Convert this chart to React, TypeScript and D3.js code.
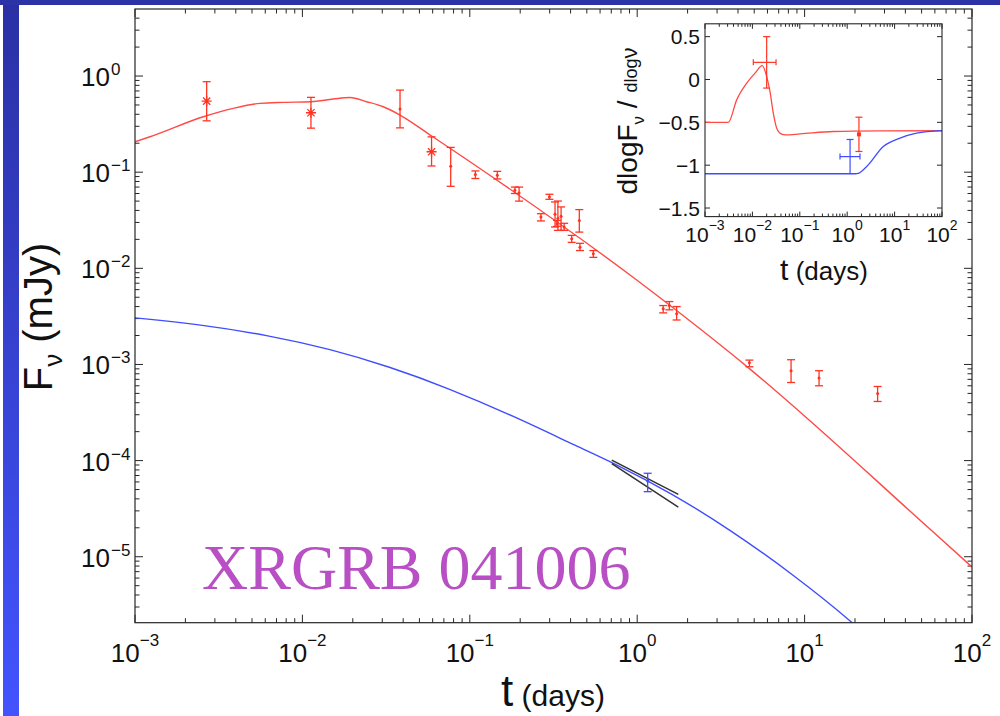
import React from "react";
import * as d3 from "d3";

const W = 1000;
const H = 716;

// ---------- Main panel: optical (red) observations ----------
const optT = [0.00268, 0.01125, 0.0383, 0.0591, 0.0769, 0.108, 0.146, 0.186, 0.197, 0.266, 0.299, 0.323, 0.332, 0.336, 0.351, 0.366, 0.406, 0.451, 0.455, 0.547, 1.43, 1.556, 1.72, 4.68, 8.3, 12.2, 27.3];
const optF = [0.549, 0.415, 0.453, 0.163, 0.115, 0.0944, 0.093, 0.0649, 0.0607, 0.0341, 0.0552, 0.0364, 0.0291, 0.0331, 0.0348, 0.0269, 0.0203, 0.0315, 0.0166, 0.0142, 0.00379, 0.0041, 0.00336, 0.00104, 0.000861, 0.000722, 0.000499];
const optLo = [0.342, 0.287, 0.289, 0.116, 0.0713, 0.0859, 0.085, 0.06, 0.05, 0.0311, 0.0522, 0.0269, 0.0273, 0.0248, 0.0248, 0.0248, 0.0186, 0.0238, 0.0153, 0.013, 0.00344, 0.0037, 0.0029, 0.000946, 0.000649, 0.0006, 0.000412];
const optHi = [0.873, 0.6, 0.714, 0.233, 0.181, 0.103, 0.102, 0.07, 0.07, 0.037, 0.0589, 0.049, 0.0315, 0.0501, 0.0435, 0.0294, 0.022, 0.0408, 0.0182, 0.0153, 0.0041, 0.00451, 0.004, 0.00111, 0.00112, 0.000861, 0.00059];
const optMarker = ["star", "star", "dot", "star", "dot", "dot", "dot", "dot", "dot", "dot", "dot", "dot", "dot", "dot", "dot", "dot", "dot", "dot", "dot", "dot", "dot", "dot", "dot", "dot", "dot", "dot", "dot"];

// X-ray (blue) observation
const xrT = [1.155];
const xrF = [6.14e-5];
const xrLo = [4.75e-5];
const xrHi = [7.38e-5];

// Bow-tie (X-ray spectral range)
const bowT = [0.705, 1.76];
const bowUpperF = [1.01e-4, 4.46e-5];
const bowLowerF = [9.3e-5, 3.29e-5];

// Model curves
const modelOptT = [0.001, 0.001229, 0.002559, 0.003866, 0.00558, 0.007689, 0.011254, 0.015298, 0.019241, 0.024215, 0.03042, 0.038282, 0.0592, 0.99312, 4.6613, 55.41, 100];
const modelOptF = [0.2073, 0.2336, 0.3773, 0.4613, 0.52, 0.5327, 0.5404, 0.5763, 0.5975, 0.5404, 0.4793, 0.3929, 0.2376, 0.007552, 0.000911, 1.974e-5, 7.81e-6];
const modelXT = [0.001, 0.00234, 0.0064, 0.0146, 0.0333, 0.0728, 0.182, 0.455, 0.719, 1.6, 3.58, 8.5, 20.0, 30.0];
const modelXF = [3.05e-3, 2.64e-3, 2.0e-3, 1.45e-3, 9.46e-4, 5.75e-4, 2.92e-4, 1.36e-4, 9.51e-5, 4.6e-5, 1.92e-5, 6.6e-6, 2.0e-6, 1.0e-6];

// Ticks
const mainXDecades = [-3, -2, -1, 0, 1, 2];
const mainYDecades = [0, -1, -2, -3, -4, -5];

// ---------- Inset: spectral index ----------
const insOptT = [0.001, 0.003102, 0.004664, 0.007582, 0.01135, 0.01618, 0.02003, 0.02351, 0.0276, 0.03256, 0.04149, 0.04873, 0.101, 0.5089, 4.92, 100];
const insOptB = [-0.5, -0.5, -0.238, -0.043, 0.075, 0.162, 0.034, -0.141, -0.393, -0.568, -0.638, -0.646, -0.635, -0.607, -0.6, -0.598];
const insXT = [0.001, 1.5, 1.71, 2.58, 5.78, 13.0, 29.2, 100];
const insXB = [-1.1, -1.1, -1.095, -1.015, -0.782, -0.684, -0.626, -0.596];

const insOptPtT = [0.02, 1.77];
const insOptPtTLo = [0.01045, null];
const insOptPtTHi = [0.0315, null];
const insOptPtB = [0.2, -0.64];
const insOptPtBLo = [-0.1, -0.84];
const insOptPtBHi = [0.5, -0.44];
const insOptPtMarker = ["none", "square"];

const insXPtT = [1.15];
const insXPtTLo = [0.705];
const insXPtTHi = [1.86];
const insXPtB = [-0.9];
const insXPtBLo = [-1.1];
const insXPtBHi = [-0.7];

const insXDecades = [-3, -2, -1, 0, 1, 2];
const insYTicks = [0.5, 0, -0.5, -1, -1.5];

const RED_LINE = "#ff4a45";
const RED_BAR = "#ff3322";
const BLUE = "#3f4dff";
const AX = "#262626";
const SANS = "'Liberation Sans', Arial, Helvetica, sans-serif";

const fmtExp = (d: number) => (d < 0 ? "\u2212" + Math.abs(d) : String(d));

export default function App() {
  // main scales
  const pL = 135, pR = 972, pT = 9, pB = 622.7;
  const x = d3.scaleLog().domain([1e-3, 1e2]).range([pL, pR]);
  const y = d3.scaleLog().domain([2.06e-6, 4.98]).range([pB, pT]);

  // inset scales
  const iL = 705, iR = 942, iT = 23.8, iB = 216.6;
  const xi = d3.scaleLog().domain([1e-3, 1e2]).range([iL, iR]);
  const yi = d3.scaleLinear().domain([-1.6, 0.65]).range([iB, iT]);

  const lineMain = d3
    .line<[number, number]>()
    .x((d) => x(d[0]))
    .y((d) => y(d[1]))
    .curve(d3.curveMonotoneX);
  const lineMainSmooth = d3
    .line<[number, number]>()
    .x((d) => x(d[0]))
    .y((d) => y(d[1]))
    .curve(d3.curveBasis);
  const lineIns = d3
    .line<[number, number]>()
    .x((d) => xi(d[0]))
    .y((d) => yi(d[1]))
    .curve(d3.curveMonotoneX);

  const optModelPath = lineMain(modelOptT.map((t, i) => [t, modelOptF[i]]) as [number, number][]) || "";
  const xModelPath = lineMainSmooth(modelXT.map((t, i) => [t, modelXF[i]]) as [number, number][]) || "";
  const insOptPath = lineIns(insOptT.map((t, i) => [t, insOptB[i]]) as [number, number][]) || "";
  const insXPath = lineIns(insXT.map((t, i) => [t, insXB[i]]) as [number, number][]) || "";

  // main ticks
  const xMinor: number[] = [];
  for (let d = -3; d < 2; d++) for (let k = 2; k <= 9; k++) xMinor.push(k * Math.pow(10, d));
  const yMinor: number[] = [];
  for (let d = -6; d <= 0; d++)
    for (let k = 2; k <= 9; k++) {
      const v = k * Math.pow(10, d);
      if (v > 2.06e-6 && v < 4.98) yMinor.push(v);
    }

  const star = "M-5,0L5,0M0,-5L0,5M-3.6,-3.6L3.6,3.6M-3.6,3.6L3.6,-3.6";
  const cap = 4;

  return (
    <svg
      width={W}
      height={H}
      viewBox={`0 0 ${W} ${H}`}
      style={{ position: "absolute", left: 0, top: 0, background: "#fff" }}
      fontFamily={SANS}
    >
      <defs>
        <linearGradient id="strip" x1="0" y1="0" x2="0" y2="1">
          <stop offset="0" stopColor="#2a30a3" />
          <stop offset="1" stopColor="#4354ff" />
        </linearGradient>
        <clipPath id="mainClip">
          <rect x={pL} y={pT} width={pR - pL} height={pB - pT} />
        </clipPath>
        <clipPath id="insClip">
          <rect x={iL} y={iT} width={iR - iL} height={iB - iT} />
        </clipPath>
      </defs>

      {/* slide frame */}
      <rect x={0} y={0} width={W} height={H} fill="#fff" />
      <rect x={3} y={0} width={16} height={H} fill="url(#strip)" />
      <rect x={0} y={0} width={W} height={5} fill="#2c33a7" />

      {/* main plot box */}
      <rect x={pL} y={pT} width={pR - pL} height={pB - pT} fill="#fff" stroke="none" />

      {/* main ticks */}
      <g stroke={AX} strokeWidth={1}>
        {mainXDecades.map((d) => {
          const px = x(Math.pow(10, d));
          return (
            <g key={"xM" + d}>
              <line x1={px} x2={px} y1={pB} y2={pB - 8} />
              <line x1={px} x2={px} y1={pT} y2={pT + 8} />
            </g>
          );
        })}
        {xMinor.map((v, i) => {
          const px = x(v);
          return (
            <g key={"xm" + i}>
              <line x1={px} x2={px} y1={pB} y2={pB - 4.5} />
              <line x1={px} x2={px} y1={pT} y2={pT + 4.5} />
            </g>
          );
        })}
        {mainYDecades.map((d) => {
          const py = y(Math.pow(10, d));
          return (
            <g key={"yM" + d}>
              <line x1={pL} x2={pL + 8} y1={py} y2={py} />
              <line x1={pR} x2={pR - 8} y1={py} y2={py} />
            </g>
          );
        })}
        {yMinor.map((v, i) => {
          const py = y(v);
          return (
            <g key={"ym" + i}>
              <line x1={pL} x2={pL + 4.5} y1={py} y2={py} />
              <line x1={pR} x2={pR - 4.5} y1={py} y2={py} />
            </g>
          );
        })}
      </g>

      {/* main tick labels */}
      <g fill="#111">
        {mainXDecades.map((d) => (
          <text key={"xl" + d} x={x(Math.pow(10, d))} y={662} textAnchor="middle" fontSize={26}>
            <tspan>10</tspan>
            <tspan dy={-16} fontSize={17}>{fmtExp(d)}</tspan>
          </text>
        ))}
        {mainYDecades.map((d) => {
          const py = y(Math.pow(10, d));
          return (
            <g key={"yl" + d}>
              <text x={110} y={py + 10} textAnchor="end" fontSize={26}>10</text>
              <text x={111} y={py - 1} textAnchor="start" fontSize={17}>{fmtExp(d)}</text>
            </g>
          );
        })}
      </g>

      {/* axis labels */}
      <text x={553} y={706} textAnchor="middle" fill="#111">
        <tspan fontSize={44}>t</tspan>
        <tspan fontSize={30}> (days)</tspan>
      </text>
      <text transform="translate(52,317) rotate(-90)" textAnchor="middle" fill="#111" fontSize={40}>
        <tspan>F</tspan>
        <tspan fontSize={26} dy={10}>ν</tspan>
        <tspan dy={-10}> (mJy)</tspan>
      </text>

      {/* curves */}
      <g clipPath="url(#mainClip)" fill="none">
        <path d={optModelPath} stroke={RED_LINE} strokeWidth={1.4} />
        <path d={xModelPath} stroke={BLUE} strokeWidth={1.4} />
      </g>

      {/* bow tie */}
      <g stroke="#333" strokeWidth={1.5}>
        <line x1={x(bowT[0])} y1={y(bowUpperF[0])} x2={x(bowT[1])} y2={y(bowUpperF[1])} />
        <line x1={x(bowT[0])} y1={y(bowLowerF[0])} x2={x(bowT[1])} y2={y(bowLowerF[1])} />
      </g>

      {/* optical points */}
      <g stroke={RED_BAR} strokeWidth={1.3} fill={RED_BAR}>
        {optT.map((t, i) => {
          const px = x(t);
          const py = y(optF[i]);
          const ylo = y(optLo[i]);
          const yhi = y(optHi[i]);
          return (
            <g key={"o" + i}>
              <line x1={px} x2={px} y1={ylo} y2={yhi} />
              <line x1={px - cap} x2={px + cap} y1={ylo} y2={ylo} />
              <line x1={px - cap} x2={px + cap} y1={yhi} y2={yhi} />
              {optMarker[i] === "star" ? (
                <path d={star} transform={`translate(${px},${py})`} fill="none" />
              ) : (
                <circle cx={px} cy={py} r={1.5} stroke="none" />
              )}
            </g>
          );
        })}
      </g>

      {/* X-ray point */}
      <g stroke={BLUE} strokeWidth={1.3} fill={BLUE}>
        {xrT.map((t, i) => {
          const px = x(t);
          const ylo = y(xrLo[i]);
          const yhi = y(xrHi[i]);
          return (
            <g key={"x" + i}>
              <line x1={px} x2={px} y1={ylo} y2={yhi} />
              <line x1={px - cap} x2={px + cap} y1={ylo} y2={ylo} />
              <line x1={px - cap} x2={px + cap} y1={yhi} y2={yhi} />
              <circle cx={px} cy={y(xrF[i])} r={1.5} stroke="none" />
            </g>
          );
        })}
      </g>

      {/* GRB label */}
      <text x={202} y={589} fontFamily="'Liberation Serif', 'Times New Roman', serif" fontSize={64} fill="#b84fc4">
        XRGRB 041006
      </text>

      {/* main frame */}
      <rect x={pL} y={pT} width={pR - pL} height={pB - pT} fill="none" stroke={AX} strokeWidth={1.2} />

      {/* ---------- inset ---------- */}
      <rect x={iL} y={iT} width={iR - iL} height={iB - iT} fill="#fff" />
      <g stroke={AX} strokeWidth={1}>
        {insXDecades.map((d) => {
          const px = xi(Math.pow(10, d));
          return (
            <g key={"ixM" + d}>
              <line x1={px} x2={px} y1={iB} y2={iB - 5} />
              <line x1={px} x2={px} y1={iT} y2={iT + 5} />
            </g>
          );
        })}
        {xMinor.map((v, i) => {
          const px = xi(v);
          return (
            <g key={"ixm" + i}>
              <line x1={px} x2={px} y1={iB} y2={iB - 3} />
              <line x1={px} x2={px} y1={iT} y2={iT + 3} />
            </g>
          );
        })}
        {insYTicks.map((v) => {
          const py = yi(v);
          return (
            <g key={"iy" + v}>
              <line x1={iL} x2={iL + 5} y1={py} y2={py} />
              <line x1={iR} x2={iR - 5} y1={py} y2={py} />
            </g>
          );
        })}
      </g>
      <g fill="#111">
        {insYTicks.map((v) => (
          <text key={"iyl" + v} x={700} y={yi(v) + 7.5} textAnchor="end" fontSize={21}>
            {v < 0 ? "\u2212" + Math.abs(v) : String(v)}
          </text>
        ))}
        {insXDecades.map((d) => (
          <text key={"ixl" + d} x={xi(Math.pow(10, d))} y={242} textAnchor="middle" fontSize={21}>
            <tspan>10</tspan>
            <tspan dy={-12} fontSize={14}>{fmtExp(d)}</tspan>
          </text>
        ))}
      </g>
      <text x={824} y={280} textAnchor="middle" fill="#111">
        <tspan fontSize={30}>t</tspan>
        <tspan fontSize={26}> (days)</tspan>
      </text>
      <text transform="translate(637,121) rotate(-90)" textAnchor="middle" fill="#111" fontSize={28}>
        <tspan>dlogF</tspan>
        <tspan fontSize={17} dy={7}>ν</tspan>
        <tspan dy={-7}> / </tspan>
        <tspan fontSize={18}>dlog</tspan>
        <tspan fontSize={22}>ν</tspan>
      </text>

      <g clipPath="url(#insClip)" fill="none">
        <path d={insOptPath} stroke={RED_LINE} strokeWidth={1.3} />
        <path d={insXPath} stroke={BLUE} strokeWidth={1.3} />
      </g>

      {/* inset points */}
      <g stroke={RED_BAR} strokeWidth={1.2} fill={RED_BAR}>
        {insOptPtT.map((t, i) => {
          const px = xi(t);
          const py = yi(insOptPtB[i]);
          const ylo = yi(insOptPtBLo[i]);
          const yhi = yi(insOptPtBHi[i]);
          const tlo = insOptPtTLo[i];
          const thi = insOptPtTHi[i];
          return (
            <g key={"io" + i}>
              <line x1={px} x2={px} y1={ylo} y2={yhi} />
              <line x1={px - 3.5} x2={px + 3.5} y1={ylo} y2={ylo} />
              <line x1={px - 3.5} x2={px + 3.5} y1={yhi} y2={yhi} />
              {tlo !== null && thi !== null ? (
                <g>
                  <line x1={xi(tlo)} x2={xi(thi)} y1={py} y2={py} />
                  <line x1={xi(tlo)} x2={xi(tlo)} y1={py - 3} y2={py + 3} />
                  <line x1={xi(thi)} x2={xi(thi)} y1={py - 3} y2={py + 3} />
                </g>
              ) : null}
              {insOptPtMarker[i] === "square" ? (
                <rect x={px - 2} y={py - 2} width={4} height={4} stroke="none" />
              ) : null}
            </g>
          );
        })}
      </g>
      <g stroke={BLUE} strokeWidth={1.2}>
        {insXPtT.map((t, i) => {
          const px = xi(t);
          const py = yi(insXPtB[i]);
          const ylo = yi(insXPtBLo[i]);
          const yhi = yi(insXPtBHi[i]);
          return (
            <g key={"ix" + i}>
              <line x1={px} x2={px} y1={ylo} y2={yhi} />
              <line x1={px - 3.5} x2={px + 3.5} y1={yhi} y2={yhi} />
              <line x1={xi(insXPtTLo[i])} x2={xi(insXPtTHi[i])} y1={py} y2={py} />
              <line x1={xi(insXPtTLo[i])} x2={xi(insXPtTLo[i])} y1={py - 3} y2={py + 3} />
              <line x1={xi(insXPtTHi[i])} x2={xi(insXPtTHi[i])} y1={py - 3} y2={py + 3} />
            </g>
          );
        })}
      </g>
      <rect x={iL} y={iT} width={iR - iL} height={iB - iT} fill="none" stroke={AX} strokeWidth={1.1} />
    </svg>
  );
}
